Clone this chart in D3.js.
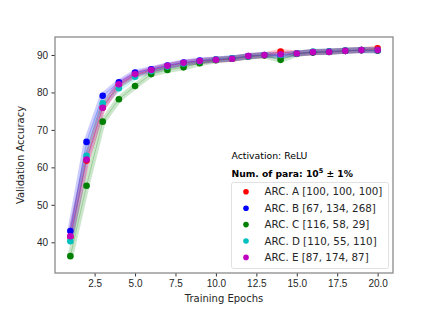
<!DOCTYPE html>
<html>
<head>
<meta charset="utf-8">
<script src="https://cdn.jsdelivr.net/npm/d3@7"></script>
<style>
  body { margin: 0; background: #fff; }
  svg { font-family: "DejaVu Sans", sans-serif; }
</style>
</head>
<body>
<div id="chart"></div>
<script>
// epochs on the x axis
var epochs = [1, 2, 3, 4, 5, 6, 7, 8, 9, 10, 11, 12, 13, 14, 15, 16, 17, 18, 19, 20];

// validation accuracy per architecture
var arcA = [41.4, 61.8, 76.0, 82.0, 84.6, 85.9, 87.0, 87.8, 88.3, 88.7, 89.0, 89.6, 89.9, 90.9, 90.4, 90.7, 90.9, 91.1, 91.3, 91.8];
var arcB = [43.0, 66.8, 79.1, 82.7, 85.3, 86.2, 87.2, 88.0, 88.5, 88.8, 89.1, 89.7, 90.0, 89.8, 90.4, 90.7, 90.9, 91.1, 91.3, 91.2];
var arcC = [36.3, 55.1, 72.2, 78.2, 81.7, 84.9, 86.0, 86.7, 87.8, 88.6, 89.0, 89.6, 89.9, 88.7, 90.3, 90.7, 90.8, 91.1, 91.3, 91.2];
var arcD = [40.3, 63.1, 77.1, 81.1, 84.2, 85.7, 86.9, 87.7, 88.3, 88.8, 89.1, 89.6, 90.0, 90.0, 90.4, 90.9, 90.9, 91.2, 91.3, 91.3];
var arcE = [41.6, 62.1, 75.9, 82.2, 84.9, 86.0, 87.1, 87.9, 88.4, 88.7, 89.0, 89.7, 90.0, 90.2, 90.4, 90.8, 90.8, 91.1, 91.3, 91.3];

var seriesNames = ["ARC. A [100, 100, 100]", "ARC. B [67, 134, 268]", "ARC. C [116, 58, 29]", "ARC. D [110, 55, 110]", "ARC. E [87, 174, 87]"];
var seriesColors = ["#ff0000", "#0000ff", "#008000", "#00bfbf", "#bf00bf"];
var seriesValues = [arcA, arcB, arcC, arcD, arcE];

var xTicks = [2.5, 5.0, 7.5, 10.0, 12.5, 15.0, 17.5, 20.0];
var yTicks = [40, 50, 60, 70, 80, 90];

var W = 436, H = 312;
var margin = {top: 37, right: 43, bottom: 39, left: 55};
var width = W - margin.left - margin.right,
    height = H - margin.top - margin.bottom;

var svg = d3.select("#chart").append("svg").attr("width", W).attr("height", H);
var g = svg.append("g").attr("transform", "translate(" + margin.left + "," + margin.top + ")");

var x = d3.scaleLinear().domain([0.05, 20.95]).range([0, width]);
var y = d3.scaleLinear().domain([31.8, 94.8]).range([height, 0]);

var line = d3.line()
  .x(function(d, i) { return x(epochs[i]); })
  .y(function(d) { return y(d); });

// translucent bands
seriesValues.forEach(function(vals, k) {
  g.append("path")
    .datum(vals)
    .attr("fill", "none")
    .attr("stroke", seriesColors[k])
    .attr("stroke-opacity", 0.2)
    .attr("stroke-width", 6)
    .attr("stroke-linejoin", "round")
    .attr("d", line);
});
seriesValues.forEach(function(vals, k) {
  g.append("path")
    .datum(vals)
    .attr("fill", "none")
    .attr("stroke", seriesColors[k])
    .attr("stroke-opacity", 0.25)
    .attr("stroke-width", 1)
    .attr("d", line);
});

// points
seriesValues.forEach(function(vals, k) {
  g.selectAll(".pt" + k)
    .data(vals)
    .enter().append("circle")
    .attr("cx", function(d, i) { return x(epochs[i]); })
    .attr("cy", function(d) { return y(d); })
    .attr("r", 3.3)
    .attr("fill", seriesColors[k]);
});

// axes
var xAxis = g.append("g")
  .attr("transform", "translate(0," + height + ")")
  .call(d3.axisBottom(x).tickValues(xTicks).tickFormat(d3.format(".1f")).tickSize(3.5).tickPadding(3.5));
var yAxis = g.append("g")
  .call(d3.axisLeft(y).tickValues(yTicks).tickSize(3.5).tickPadding(3.5));

[xAxis, yAxis].forEach(function(a) {
  a.select(".domain").remove();
  a.selectAll("line").attr("stroke", "#333");
  a.selectAll("text").attr("fill", "#262626").style("font-size", "10px");
});

// frame
g.append("rect")
  .attr("x", 0).attr("y", 0)
  .attr("width", width).attr("height", height)
  .attr("fill", "none")
  .attr("stroke", "#8a8a8a")
  .attr("stroke-width", 1.3);

// axis labels
svg.append("text")
  .attr("x", margin.left + width / 2)
  .attr("y", 302)
  .attr("text-anchor", "middle")
  .attr("fill", "#262626")
  .style("font-size", "10px")
  .text("Training Epochs");

svg.append("text")
  .attr("transform", "translate(24," + (margin.top + height / 2) + ") rotate(-90)")
  .attr("text-anchor", "middle")
  .attr("fill", "#262626")
  .style("font-size", "10px")
  .text("Validation Accuracy");

// legend title lines
svg.append("text")
  .attr("x", 231.5).attr("y", 159)
  .attr("fill", "#000")
  .style("font-size", "9.3px")
  .text("Activation: ReLU");

var t2 = svg.append("text")
  .attr("x", 231.5).attr("y", 177)
  .attr("fill", "#000")
  .style("font-size", "9.2px")
  .style("font-weight", "bold");
t2.append("tspan").text("Num. of para: 10");
t2.append("tspan").attr("dy", -4).style("font-size", "6.5px").text("5");
t2.append("tspan").attr("dy", 4).text(" \u00b1 1%");

// legend box
var legend = svg.append("g").attr("transform", "translate(231.5,182.5)");
legend.append("rect")
  .attr("width", 157).attr("height", 86)
  .attr("rx", 2)
  .attr("fill", "#fff")
  .attr("fill-opacity", 0.8)
  .attr("stroke", "#d9d9d9")
  .attr("stroke-width", 0.8);

seriesNames.forEach(function(name, k) {
  var row = legend.append("g").attr("transform", "translate(0," + (9.3 + k * 16.4) + ")");
  row.append("circle").attr("cx", 14.5).attr("cy", 0).attr("r", 2.8).attr("fill", seriesColors[k]);
  row.append("text")
    .attr("x", 33).attr("y", 3.6)
    .attr("fill", "#262626")
    .style("font-size", "10.3px")
    .text(name);
});
</script>
</body>
</html>
